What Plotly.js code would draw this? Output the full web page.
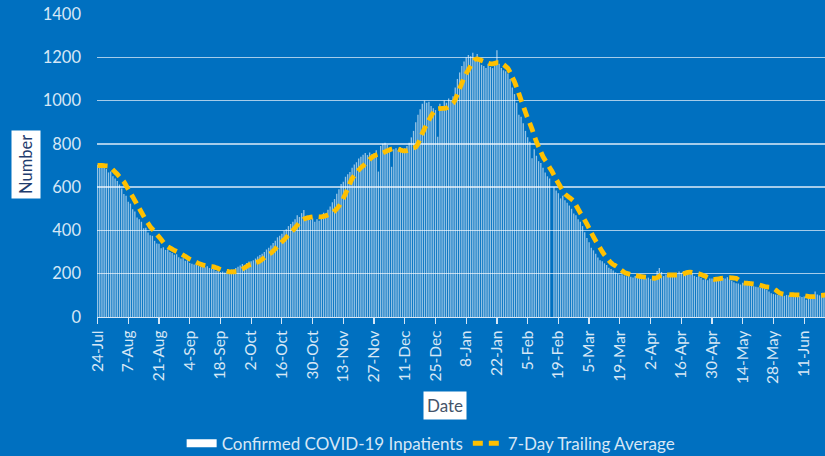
<!DOCTYPE html>
<html>
<head>
<meta charset="utf-8">
<script src="https://cdn.plot.ly/plotly-3.0.1.min.js"></script>
<style>html,body{margin:0;padding:0;background:#0070C0;}#chart{width:825px;height:456px;}</style>
</head>
<body>
<div id="chart"></div>
<script>
// First day of the daily series; each following value is one day later
const startDate = '2020-07-24';

// Confirmed COVID-19 inpatients (daily)
const inpatients = [
704,698,701,692,684,668,672,650,640,628,
612,594,568,560,532,524,498,488,460,452,
440,410,412,390,378,375,352,340,338,318,
322,310,312,300,296,288,290,276,270,272,
260,262,250,246,242,244,236,232,238,230,
234,226,222,224,212,215,208,210,206,212,
214,208,218,226,232,238,245,240,250,256,
258,262,270,280,286,292,300,312,320,330,
342,352,368,375,385,398,405,420,430,440,
452,470,462,480,494,458,450,448,455,440,
452,445,468,482,478,495,510,530,545,570,
590,615,625,648,660,670,690,705,715,732,
740,750,758,748,760,752,755,770,672,790,
800,805,795,782,694,775,780,770,785,772,
780,790,805,830,860,900,935,960,985,1000,
990,995,975,965,956,833,985,970,1000,990,
1010,1000,1020,1060,1100,1130,1160,1180,1200,1210,
1205,1221,1195,1215,1180,1165,1160,1150,1170,1155,
1150,1160,1232,1170,1150,1140,1135,1125,1100,1060,
1030,990,935,925,895,860,830,810,734,775,
745,720,712,690,668,650,640,0,600,585,
572,548,560,540,528,515,500,478,470,452,
440,420,392,365,345,320,308,292,275,262,
258,248,240,228,222,215,206,200,195,198,
192,188,194,186,182,190,180,184,178,182,
178,182,176,180,184,212,226,208,190,196,
192,190,198,188,200,210,205,212,208,200,
198,202,190,185,190,180,172,175,170,178,
178,175,185,182,186,180,178,184,175,168,
160,156,155,150,158,152,148,150,146,142,
140,138,135,140,132,126,118,110,106,104,
102,100,106,98,102,100,104,96,100,98,
96,92,95,80,90,98,100,118,104,100,
106,102,110
];

// 7-day trailing average
const trailingAvg = [
700,700,700,699,698,697,690,680,670,660,
648,637,625,608,590,573,556,538,520,502,
484,466,448,433,417,406,395,382,370,358,
345,333,325,319,314,308,303,298,292,286,
280,274,268,263,258,253,248,244,240,238,
236,234,233,232,228,224,220,216,213,211,
209,209,209,210,211,215,221,228,234,240,
243,247,251,254,259,266,274,282,289,295,
305,315,326,337,347,357,368,379,390,400,
412,424,436,446,452,456,459,461,463,464,
464,463,463,465,468,472,476,480,490,500,
512,527,548,570,593,617,640,654,667,679,
690,698,708,718,728,738,745,749,752,755,
758,763,768,772,776,779,779,776,772,769,
768,769,772,777,781,785,800,824,849,870,
890,910,928,945,958,962,963,964,964,966,
972,979,987,1005,1030,1055,1080,1105,1125,1142,
1160,1178,1190,1193,1189,1185,1181,1177,1173,1170,
1170,1172,1175,1175,1172,1166,1158,1149,1130,1108,
1087,1060,1032,1003,975,946,918,895,868,838,
810,786,763,741,724,708,691,675,655,636,
618,601,584,568,560,552,544,535,517,499,
481,466,448,429,410,390,370,352,335,319,
302,287,274,262,251,242,237,230,222,214,
207,202,199,197,195,192,190,188,186,185,
184,183,181,180,179,182,188,194,195,195,
194,194,194,194,194,194,194,198,203,206,
207,206,204,202,200,196,192,188,183,178,
175,174,175,176,178,180,181,182,182,181,
180,179,172,165,159,157,156,155,154,153,
152,150,147,144,141,139,138,137,132,125,
117,110,107,105,104,104,103,103,102,102,
102,101,99,97,95,94,94,95,97,99,
100,101,102
];

const seriesNames = ['Confirmed COVID-19 Inpatients', '7-Day Trailing Average'];
const yTitle = 'Number';
const xTitle = 'Date';

const DAY = 86400000;
const bg = '#0070C0';
const light = '#d6e7f6';
const fontFam = 'Lato, "Open Sans", sans-serif';

const traces = [
  {
    type: 'bar',
    x0: startDate, dx: DAY,
    y: inpatients,
    marker: {color: 'rgba(255,255,255,0.58)', line: {width: 0}},
    showlegend: false,
    hoverinfo: 'x+y'
  },
  {
    // legend entry only (wide white swatch like the original legend key)
    type: 'scatter', mode: 'lines',
    x: [null], y: [null],
    name: seriesNames[0],
    line: {color: '#ffffff', width: 8},
    showlegend: true
  },
  {
    type: 'scatter', mode: 'lines',
    x0: startDate, dx: DAY,
    y: trailingAvg,
    name: seriesNames[1],
    line: {color: '#FFC000', width: 4.8, dash: '10px,6px', shape: 'spline', smoothing: 0.5}
  }
];

const layout = {
  width: 825, height: 456,
  paper_bgcolor: bg, plot_bgcolor: bg,
  margin: {l: 97, r: 0, t: 14, b: 139},
  bargap: 0.4,
  font: {family: fontFam, color: light, size: 14},
  xaxis: {
    type: 'date',
    range: ['2020-07-23 18:00', '2021-06-20 12:00'],
    tick0: startDate, dtick: 14 * DAY,
    tickformat: '%-d-%b',
    tickangle: -90,
    ticks: 'outside', ticklen: 6, tickwidth: 1.2, tickcolor: light,
    showline: true, linecolor: light, linewidth: 1.3,
    showgrid: false, zeroline: false,
    tickfont: {family: fontFam, color: light, size: 15.5}
  },
  yaxis: {
    range: [0, 1400], dtick: 200,
    showgrid: true, gridcolor: 'rgba(220,235,248,0.75)', gridwidth: 1.3,
    zeroline: false, showline: false, ticks: '',
    ticklabelstandoff: 15,
    tickfont: {family: fontFam, color: light, size: 16.5}
  },
  legend: {
    orientation: 'h',
    xref: 'container', yref: 'container',
    x: 0.522, xanchor: 'center',
    y: 0.027, yanchor: 'middle',
    font: {family: fontFam, color: light, size: 17},
    itemwidth: 30, bgcolor: 'rgba(0,0,0,0)'
  },
  annotations: [
    {
      text: yTitle, xref: 'paper', yref: 'paper',
      x: 0, y: 0.5, xanchor: 'center', yanchor: 'middle',
      textangle: -90, showarrow: false,
      bgcolor: '#ffffff', borderpad: 4,
      font: {family: fontFam, color: '#1f3c6e', size: 16.5}
    },
    {
      text: xTitle, xref: 'paper', yref: 'paper',
      x: 0.5, y: -0.29, xanchor: 'center', yanchor: 'middle',
      showarrow: false,
      bgcolor: '#ffffff', borderpad: 3,
      font: {family: fontFam, color: '#44546a', size: 17}
    }
  ]
};

// place the titles at their pixel positions from the original
layout.annotations[0].x = (26 - 97) / 728;
layout.annotations[0].y = (317 - 165) / 303;
layout.annotations[1].x = (445 - 97) / 728;
layout.annotations[1].y = (317 - 405) / 303;

Plotly.newPlot('chart', traces, layout, {displayModeBar: false, staticPlot: true});
</script>
</body>
</html>
